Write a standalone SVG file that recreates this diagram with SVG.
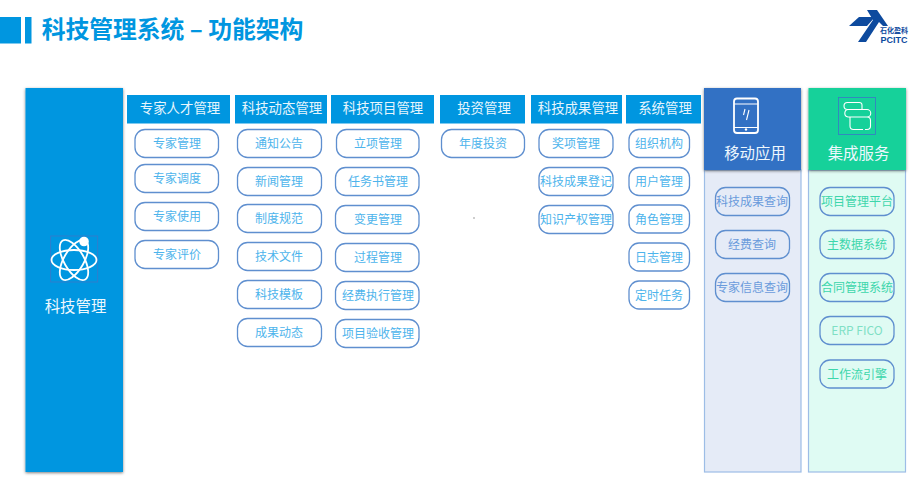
<svg xmlns="http://www.w3.org/2000/svg" width="913" height="481" viewBox="0 0 913 481">
<defs>
<filter id="sh" x="-10%" y="-5%" width="120%" height="110%"><feDropShadow dx="0" dy="1" stdDeviation="1.800" flood-color="#000" flood-opacity="0.5"/></filter>
</defs>
<style>
text{font-family:"Noto Sans CJK SC","Liberation Sans",sans-serif;text-anchor:middle}
.hd{fill:#0096e0}
.ht{fill:#e6f5fd;font-size:13.400px}
.p{fill:#fff;stroke:#5f8fcf;stroke-width:1.300}
.pm{fill:#e5ebf7;stroke:#5f8fcf;stroke-width:1.300}
.pi{fill:#dffbf3;stroke:#5f8fcf;stroke-width:1.300}
.t{fill:#4db4ec;font-size:12px}
.tm{fill:#6a9bdc;font-size:12px}
.ti{fill:#3dd6ab;font-size:12px}
.big{fill:#eef8fe;font-size:15.400px}
.ic{fill:none;stroke:#fff;stroke-width:1.800}
.thin{fill:none;stroke:#fff;stroke-width:1.100}
</style>
<g id="title">
<rect x="0" y="17" width="21" height="26.500" fill="#0096e0"/>
<rect x="25" y="17" width="6.500" height="26.500" fill="#0096e0"/>
<text x="172.500" y="38" style="fill:#0096e0;font-size:23.800px;font-weight:700">科技管理系统 – 功能架构</text>
</g>
<g id="logo">
<polygon points="849,26 859,17 875,17 867,26" fill="#0d4a9e"/>
<polygon points="867,10 877,10 888,26 883,26 879,22 866,42 858,42 873,20" fill="#0d4a9e"/>
<text x="894" y="32.500" style="fill:#0d4a9e;font-size:7px;font-weight:700">石化盈科</text>
<text x="894" y="43" style="fill:#0d4a9e;font-size:9px;font-weight:700;font-family:'Liberation Sans',sans-serif">PCITC</text>
</g>
<g id="main">
<rect x="25.500" y="88" width="97.500" height="384" fill="#0096e0" filter="url(#sh)"/>
<rect x="50.700" y="236" width="47" height="46" fill="none" stroke="#3a78c8" stroke-width="0.800"/>
<g transform="translate(74,260)">
<ellipse rx="22.500" ry="10" class="ic"/>
<ellipse rx="22.500" ry="10" class="ic" transform="rotate(60)"/>
<ellipse rx="22.500" ry="10" class="ic" transform="rotate(-60)"/>
</g>
<circle cx="84" cy="241.500" r="4.800" fill="#fff"/>
<text x="75.500" y="312" class="big">科技管理</text>
</g>
<g id="col-expert">
<rect x="127" y="95" width="103" height="28.500" class="hd"/><text x="180" y="113" class="ht">专家人才管理</text>
<rect x="135" y="129.500" width="83.500" height="28" rx="10" class="p"/><text x="177" y="148" class="t">专家管理</text>
<rect x="135" y="164.500" width="83.500" height="28" rx="10" class="p"/><text x="177" y="183" class="t">专家调度</text>
<rect x="135" y="202.500" width="83.500" height="28" rx="10" class="p"/><text x="177" y="221" class="t">专家使用</text>
<rect x="135" y="240.500" width="83.500" height="28" rx="10" class="p"/><text x="177" y="259" class="t">专家评价</text>
</g>
<g id="col-news">
<rect x="235" y="95" width="92" height="28.500" class="hd"/><text x="282" y="113" class="ht">科技动态管理</text>
<rect x="237.500" y="129.500" width="84" height="28" rx="10" class="p"/><text x="279" y="148" class="t">通知公告</text>
<rect x="237.500" y="167.500" width="84" height="28" rx="10" class="p"/><text x="279" y="186" class="t">新闻管理</text>
<rect x="237.500" y="204.500" width="84" height="28" rx="10" class="p"/><text x="279" y="223" class="t">制度规范</text>
<rect x="237.500" y="242.500" width="84" height="28" rx="10" class="p"/><text x="279" y="261" class="t">技术文件</text>
<rect x="237.500" y="280.500" width="84" height="28" rx="10" class="p"/><text x="279" y="299" class="t">科技模板</text>
<rect x="237.500" y="318.500" width="84" height="28" rx="10" class="p"/><text x="279" y="337" class="t">成果动态</text>
</g>
<g id="col-project">
<rect x="331" y="95" width="103" height="28.500" class="hd"/><text x="383" y="113" class="ht">科技项目管理</text>
<rect x="336.500" y="129.500" width="82.500" height="28" rx="10" class="p"/><text x="378" y="148" class="t">立项管理</text>
<rect x="335.500" y="167.500" width="83.500" height="28" rx="10" class="p"/><text x="378" y="186" class="t">任务书管理</text>
<rect x="335.500" y="205.500" width="83.500" height="28" rx="10" class="p"/><text x="378" y="224" class="t">变更管理</text>
<rect x="335.500" y="243.500" width="83.500" height="28" rx="10" class="p"/><text x="378" y="262" class="t">过程管理</text>
<rect x="335.500" y="281.500" width="83.500" height="28" rx="10" class="p"/><text x="378" y="300" class="t">经费执行管理</text>
<rect x="335.500" y="319.500" width="83.500" height="28" rx="10" class="p"/><text x="378" y="338" class="t">项目验收管理</text>
</g>
<g id="col-invest">
<rect x="440" y="95" width="85" height="28.500" class="hd"/><text x="484" y="113" class="ht">投资管理</text>
<rect x="441.500" y="129.500" width="83" height="28" rx="10" class="p"/><text x="483" y="148" class="t">年度投资</text>
</g>
<g id="col-result">
<rect x="531" y="95" width="91" height="28.500" class="hd"/><text x="578" y="113" class="ht">科技成果管理</text>
<rect x="539" y="129.500" width="74" height="28" rx="10" class="p"/><text x="576" y="148" class="t">奖项管理</text>
<rect x="539" y="167.500" width="74" height="28" rx="10" class="p"/><text x="576" y="186" class="t">科技成果登记</text>
<rect x="539" y="205.500" width="74" height="28" rx="10" class="p"/><text x="576" y="224" class="t">知识产权管理</text>
</g>
<g id="col-system">
<rect x="626" y="95" width="75" height="28.500" class="hd"/><text x="665" y="113" class="ht">系统管理</text>
<rect x="629" y="129.500" width="60.500" height="28" rx="10" class="p"/><text x="659" y="148" class="t">组织机构</text>
<rect x="629" y="167.500" width="60.500" height="28" rx="10" class="p"/><text x="659" y="186" class="t">用户管理</text>
<rect x="629" y="205" width="60.500" height="28" rx="10" class="p"/><text x="659" y="224" class="t">角色管理</text>
<rect x="629" y="243" width="60.500" height="28" rx="10" class="p"/><text x="659" y="262" class="t">日志管理</text>
<rect x="629" y="281" width="60.500" height="28" rx="10" class="p"/><text x="659" y="300" class="t">定时任务</text>
</g>
<g id="mobile">
<rect x="704.500" y="170" width="96.500" height="302" fill="#e5ebf7" stroke="#9dbde6" stroke-width="1.200"/>
<rect x="704" y="88" width="97" height="82" fill="#3071c4" filter="url(#sh)"/>
<rect x="734" y="98.500" width="24" height="34.500" rx="3" class="ic"/>
<path d="M734,104H758M734,127.500H758" class="thin"/>
<circle cx="746" cy="129.500" r="1.200" fill="#fff"/>
<path d="M745,109l-1.500,6M749,110l-2.500,10" class="thin"/>
<text x="755" y="159" class="big">移动应用</text>
<rect x="715.500" y="187.500" width="74" height="28" rx="10" class="pm"/><text x="752" y="206" class="tm">科技成果查询</text>
<rect x="715.500" y="230.500" width="74" height="28" rx="10" class="pm"/><text x="752" y="249" class="tm">经费查询</text>
<rect x="715.500" y="273.500" width="74" height="28" rx="10" class="pm"/><text x="752" y="292" class="tm">专家信息查询</text>
</g>
<g id="integration">
<rect x="808.500" y="170" width="97" height="302" fill="#dffbf3" stroke="#9dbde6" stroke-width="1.200"/>
<rect x="808.500" y="88" width="97.500" height="82" fill="#12d19a" filter="url(#sh)"/>
<rect x="838.500" y="97.500" width="37" height="37" fill="none" stroke="#3a78c8" stroke-width="0.800"/>
<path d="M862,109.500V105a2.500,2.500 0 0 0 -2.500,-2.500H847.500a3.500,3.500 0 0 0 0,7H867a3.500,3.500 0 0 1 0,7.500H848a3.800,3.800 0 0 1 0,-7.500M850,117V126a3.500,3.500 0 0 0 3.500,3.500H863M865,129.500H867a3.500,3.500 0 0 0 3.500,-3.500V120.500a3.500,3.500 0 0 0 -3.500,-3.500" class="thin"/>
<text x="858.500" y="159" class="big">集成服务</text>
<rect x="820" y="187.500" width="74" height="28" rx="10" class="pi"/><text x="857" y="206" class="ti">项目管理平台</text>
<rect x="820" y="230.500" width="74" height="28" rx="10" class="pi"/><text x="857" y="249" class="ti">主数据系统</text>
<rect x="820" y="273.500" width="74" height="28" rx="10" class="pi"/><text x="857" y="292" class="ti">合同管理系统</text>
<rect x="820" y="316.500" width="74" height="28" rx="10" class="pi"/><text x="857" y="335" class="ti" style="fill:#7fe0c5">ERP FICO</text>
<rect x="820" y="360" width="74" height="28" rx="10" class="pi"/><text x="857" y="379" class="ti">工作流引擎</text>
</g>
<circle cx="474" cy="218" r="0.700" fill="#777"/>
<g id="connectors"></g>
</svg>
